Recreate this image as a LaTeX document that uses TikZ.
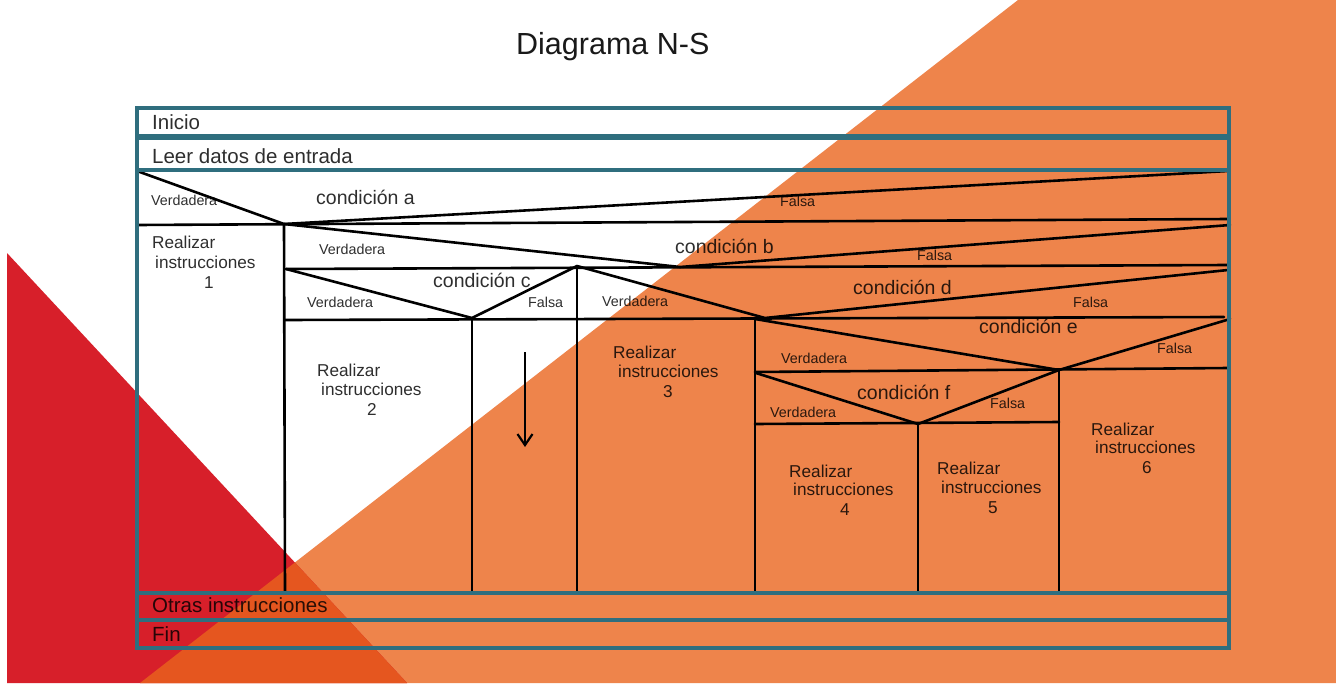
\documentclass[tikz,border=0pt]{standalone}
\usepackage{fontspec}
\setmainfont{Liberation Sans}
\usetikzlibrary{arrows.meta}
\definecolor{fondoNaranja}{HTML}{EE844B}
\definecolor{fondoRojo}{HTML}{D71F2A}
\definecolor{fondoMezcla}{HTML}{E5561F}
\definecolor{marco}{HTML}{2F6E7E}
\begin{document}
\begin{tikzpicture}[x=1pt,y=-1pt,
  frameline/.style={draw=marco,line width=3.2pt},
  nsline/.style={draw=black,line width=2.6pt,line cap=round,line join=round},
  rowtext/.style={font=\fontsize{20.5}{24}\selectfont,anchor=base west,inner sep=0pt,text=black,text opacity=0.82},
  condtext/.style={font=\fontsize{19.5}{22}\selectfont,anchor=base west,inner sep=0pt,text=black,text opacity=0.82},
  smalltext/.style={font=\fontsize{14.3}{16}\selectfont,anchor=base west,inner sep=0pt,text=black,text opacity=0.82},
  bodytext/.style={font=\fontsize{17.2}{20}\selectfont,anchor=base west,inner sep=0pt,text=black,text opacity=0.82},
  numtext/.style={font=\fontsize{17.2}{20}\selectfont,anchor=base,inner sep=0pt,text=black,text opacity=0.82}]

% page and background triangles
\fill[white] (0,0) rectangle (1336,683);
\useasboundingbox (0,0) rectangle (1336,683);
\fill[fondoNaranja] (1018,0) -- (1336,0) -- (1336,683) -- (140,683) -- cycle;
\fill[fondoRojo] (7,253) -- (407,683) -- (7,683) -- cycle;
\begin{scope}
  \clip (7,253) -- (407,683) -- (7,683) -- cycle;
  \fill[fondoMezcla] (1018,0) -- (1336,0) -- (1336,683) -- (140,683) -- cycle;
\end{scope}

% title
\node[font=\fontsize{30.5}{34}\selectfont,anchor=base west,inner sep=0pt,text=black!90] (titulo) at (516,54) {Diagrama N-S};

% condition vertices and block corners
\coordinate (aTL) at (137,171);
\coordinate (aV) at (284,224);
\coordinate (aTR) at (1228,171);
\coordinate (aBL) at (137,225);
\coordinate (aBR) at (1228,219);
\coordinate (bV) at (680,267);
\coordinate (bTR) at (1230,225);
\coordinate (bBL) at (286,269);
\coordinate (bBR) at (1228,265);
\coordinate (cV) at (472,318);
\coordinate (cTR) at (577,266);
\coordinate (cBL) at (285,320);
\coordinate (cBR) at (1224,317);
\coordinate (dV) at (765,318);
\coordinate (dTR) at (1228,270);
\coordinate (eTL) at (755,319);
\coordinate (eV) at (1059,370);
\coordinate (eTR) at (1230,319);
\coordinate (eBL) at (755,372);
\coordinate (eBR) at (1228,368);
\coordinate (fTL) at (756,373);
\coordinate (fV) at (918,424);
\coordinate (fBL) at (755,424);
\coordinate (fBR) at (1059,422);
\coordinate (bot1) at (285,593);
\coordinate (bot2) at (472,593);
\coordinate (bot3) at (577,593);
\coordinate (bot4) at (755,593);
\coordinate (bot5) at (918,593);
\coordinate (bot6) at (1059,593);
\coordinate (arrowTop) at (525,352);
\coordinate (arrowEnd) at (525,447);

% condition a
\draw[nsline] (aTL) -- (aV) -- (aTR);
\draw[nsline] (aBL) -- (aBR);
% condition b
\draw[nsline] (aV) -- (bV) -- (bTR);
\draw[nsline] (bBL) -- (bBR);
\draw[nsline] (aV) -- (bot1);
% condition c
\draw[nsline] (bBL) -- (cV) -- (cTR);
\draw[nsline] (cBL) -- (cBR);
\draw[nsline] (cV) -- (bot2);
\draw[nsline] (cTR) -- (bot3);
% condition d
\draw[nsline] (cTR) -- (dV) -- (dTR);
% condition e
\draw[nsline] (eTL) -- (eV) -- (eTR);
\draw[nsline] (eBL) -- (eBR);
\draw[nsline] (eTL) -- (bot4);
\draw[nsline] (eV) -- (bot6);
% condition f
\draw[nsline] (fTL) -- (fV) -- (eV);
\draw[nsline] (fBL) -- (fBR);
\draw[nsline] (fV) -- (bot5);
% loop arrow
\draw[nsline,line cap=butt,-{Straight Barb[length=11pt,width=15pt,line width=2.2pt]}] (arrowTop) -- (arrowEnd);

% outer frame and row separators
\draw[frameline] (137,108) rectangle (1229,648);
\draw[frameline,line width=6.5pt] (137,137) -- (1229,137);
\draw[frameline] (137,170) -- (1229,170);
\draw[frameline] (137,593) -- (1229,593);
\draw[frameline] (137,620) -- (1229,620);

% row texts
\node[rowtext] (inicio) at (152,129) {Inicio};
\node[rowtext] (leer) at (152,163) {Leer datos de entrada};
\node[rowtext] (otras) at (152,612) {Otras instrucciones};
\node[rowtext] (fin) at (152,641) {Fin};

% condition texts
\node[condtext] (ca) at (316,204) {condición a};
\node[condtext] (cb) at (675,253) {condición b};
\node[condtext] (cc) at (433,287) {condición c};
\node[condtext] (cd) at (853,294) {condición d};
\node[condtext] (ce) at (979,333) {condición e};
\node[condtext] (cf) at (857,399) {condición f};

% true / false labels
\node[smalltext] (va) at (151,205) {Verdadera};
\node[smalltext] (fa) at (780,206) {Falsa};
\node[smalltext] (vb) at (319,254) {Verdadera};
\node[smalltext] (fb) at (917,260) {Falsa};
\node[smalltext] (vc) at (307,307) {Verdadera};
\node[smalltext] (fc) at (528,307) {Falsa};
\node[smalltext] (vd) at (602,306) {Verdadera};
\node[smalltext] (fd) at (1073,307) {Falsa};
\node[smalltext] (ve) at (781,363) {Verdadera};
\node[smalltext] (fe) at (1157,353) {Falsa};
\node[smalltext] (vf) at (770,417) {Verdadera};
\node[smalltext] (ff) at (990,408) {Falsa};

% instruction blocks
\node[bodytext] (r1a) at (152,248) {Realizar};
\node[bodytext] (r1b) at (155,268) {instrucciones};
\node[numtext] (r1c) at (209,288) {1};

\node[bodytext] (r2a) at (317,376) {Realizar};
\node[bodytext] (r2b) at (321,395) {instrucciones};
\node[numtext] (r2c) at (372,415) {2};

\node[bodytext] (r3a) at (613,358) {Realizar};
\node[bodytext] (r3b) at (618,377) {instrucciones};
\node[numtext] (r3c) at (668,397) {3};

\node[bodytext] (r4a) at (789,477) {Realizar};
\node[bodytext] (r4b) at (793,495) {instrucciones};
\node[numtext] (r4c) at (845,515) {4};

\node[bodytext] (r5a) at (937,474) {Realizar};
\node[bodytext] (r5b) at (941,493) {instrucciones};
\node[numtext] (r5c) at (993,513) {5};

\node[bodytext] (r6a) at (1091,435) {Realizar};
\node[bodytext] (r6b) at (1095,453) {instrucciones};
\node[numtext] (r6c) at (1147,473) {6};
\end{tikzpicture}
\end{document}
